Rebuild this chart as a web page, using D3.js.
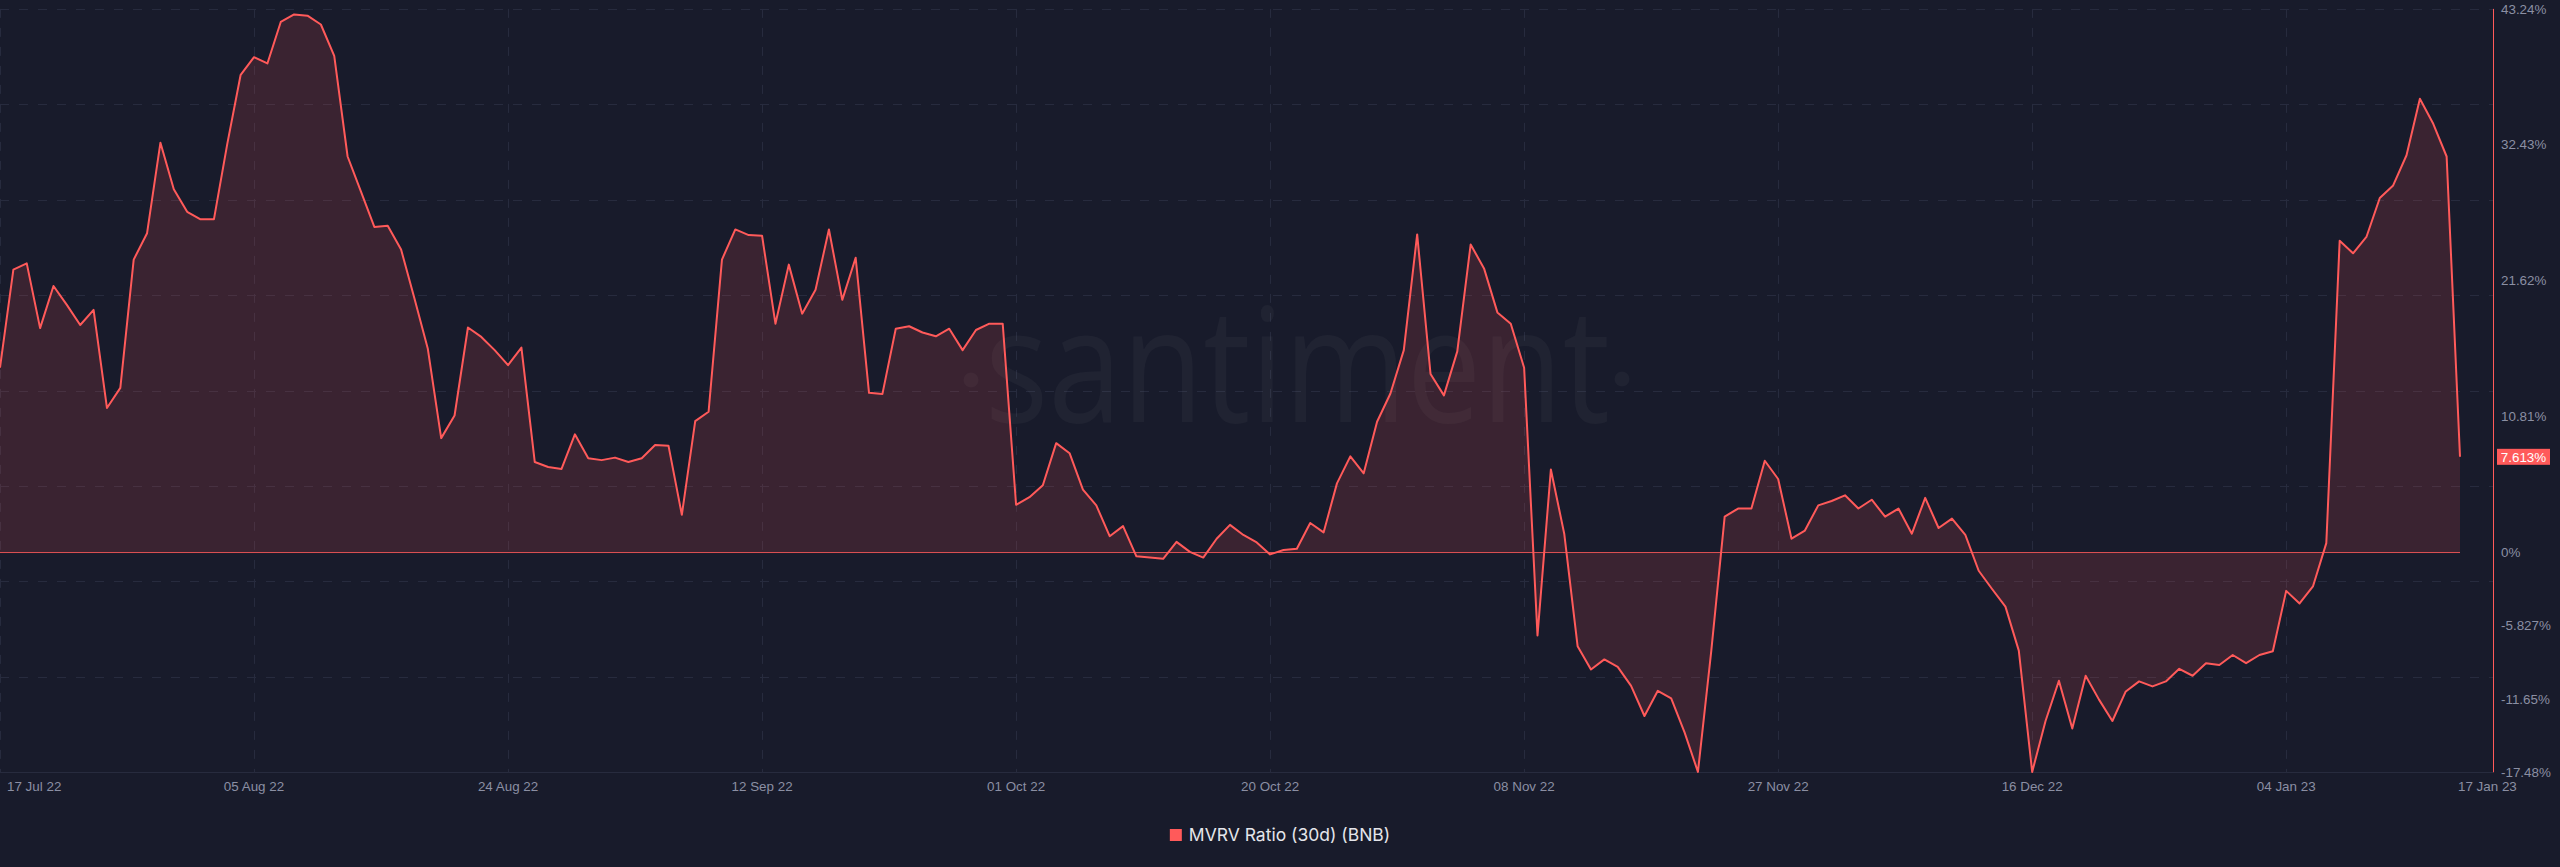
<!DOCTYPE html>
<html>
<head>
<meta charset="utf-8">
<script src="https://cdnjs.cloudflare.com/ajax/libs/d3/7.8.5/d3.min.js"></script>
<style>
  html, body { margin: 0; padding: 0; background: #181b2b; }
  svg { display: block; }
</style>
</head>
<body>
<svg id="chart" width="2560" height="867"></svg>
<script>
// ---------- DATA ----------
const seriesName = "MVRV Ratio (30d) (BNB)";
const startDate = "2022-07-17";
// daily MVRV (30d) values, %, 17 Jul 2022 .. 17 Jan 2023
const mvrvValues = [
  14.7, 22.5, 23.0, 17.85, 21.2, 19.7, 18.1, 19.3, 11.5, 13.1,
  23.3, 25.4, 32.6, 28.9, 27.1, 26.5, 26.5, 32.5, 38.0, 39.4,
  38.9, 42.2, 42.8, 42.7, 42.0, 39.5, 31.5, 28.7, 25.9, 26.0,
  24.1, 20.2, 16.2, 9.1, 10.9, 17.9, 17.15, 16.1, 14.9, 16.3,
  7.2, 6.8, 6.65, 9.4, 7.5, 7.35, 7.55, 7.2, 7.5, 8.55,
  8.5, 3.0, 10.45, 11.2, 23.3, 25.7, 25.25, 25.2, 18.2, 22.9,
  19.0, 20.9, 25.7, 20.1, 23.45, 12.7, 12.6, 17.8, 18.0, 17.5,
  17.2, 17.8, 16.1, 17.7, 18.2, 18.2, 3.8, 4.4, 5.35, 8.7,
  7.9, 5.0, 3.75, 1.3, 2.1, -0.3, -0.4, -0.5, 0.85, 0.05,
  -0.4, 1.1, 2.2, 1.4, 0.8, -0.15, 0.2, 0.3, 2.35, 1.6,
  5.5, 7.65, 6.3, 10.4, 12.65, 16.1, 25.3, 14.2, 12.5, 16.0,
  24.5, 22.6, 19.1, 18.2, 14.7, -6.6, 6.6, 1.5, -7.45, -9.3,
  -8.5, -9.1, -10.6, -13.0, -11.0, -11.6, -14.3, -17.45, -7.8, 2.85,
  3.5, 3.5, 7.3, 5.85, 1.1, 1.75, 3.75, 4.1, 4.55, 3.5,
  4.2, 2.85, 3.5, 1.5, 4.35, 1.95, 2.7, 1.4, -1.45, -2.9,
  -4.3, -7.8, -17.45, -13.4, -10.2, -14.0, -9.8, -11.7, -13.4, -11.05,
  -10.25, -10.65, -10.25, -9.25, -9.8, -8.8, -8.95, -8.15, -8.8, -8.15,
  -7.85, -3.05, -4.05, -2.7, 0.75, 24.8, 23.8, 25.1, 28.2, 29.2,
  31.6, 36.1, 34.1, 31.5, 7.613
];
const xTickDates = ["2022-07-17","2022-08-05","2022-08-24","2022-09-12","2022-10-01",
  "2022-10-20","2022-11-08","2022-11-27","2022-12-16","2023-01-04","2023-01-17"];
const xTickLabels = ["17 Jul 22","05 Aug 22","24 Aug 22","12 Sep 22","01 Oct 22",
  "20 Oct 22","08 Nov 22","27 Nov 22","16 Dec 22","04 Jan 23","17 Jan 23"];
const yTickValues = [43.24, 32.43, 21.62, 10.81, 0, -5.827, -11.65, -17.48];
const yTickLabels = ["43.24%","32.43%","21.62%","10.81%","0%","-5.827%","-11.65%","-17.48%"];

// ---------- LAYOUT ----------
const W = 2560, H = 867;
const C = {
  bg: "#181b2b", red: "#ff5a5a", grid: "#272b3e", text: "#8b8fa3", legend: "#e4e5ea"
};
const parse = d3.timeParse("%Y-%m-%d");
const t0 = parse(startDate);
const data = mvrvValues.map((v, i) => ({ date: d3.timeDay.offset(t0, i), value: v }));
const lastDate = data[data.length - 1].date;

const x = d3.scaleTime().domain([t0, lastDate]).range([0, 2460]);
const axisX = 2493; // right axis line
const y = d3.scaleLinear().domain([d3.min(yTickValues), d3.max(yTickValues)]).range([772.3, 8.9]);

const svg = d3.select("#chart");
svg.append("rect").attr("width", W).attr("height", H).attr("fill", C.bg);

// grid
const g = svg.append("g");
const [ymin, ymax] = y.domain();
const hGrid = d3.range(9).map(i => ymin + i * (ymax - ymin) / 8);
g.selectAll("line.h").data(hGrid).join("line")
  .attr("x1", 0).attr("x2", axisX)
  .attr("y1", d => Math.round(y(d)) + 0.5).attr("y2", d => Math.round(y(d)) + 0.5)
  .attr("stroke", C.grid).attr("stroke-width", 1)
  .attr("stroke-dasharray", (d, i) => i === 0 ? null : "9,10");
g.selectAll("line.v").data(xTickDates.slice(0, -1)).join("line")
  .attr("x1", d => Math.round(x(parse(d))) + 0.5).attr("x2", d => Math.round(x(parse(d))) + 0.5)
  .attr("y1", y(ymax)).attr("y2", y(ymin))
  .attr("stroke", C.grid).attr("stroke-width", 1).attr("stroke-dasharray", "9,10");

// watermark
const wm = svg.append("g").attr("fill", "#ffffff").attr("fill-opacity", 0.035);
wm.append("text").text("santiment")
  .attr("x", 985).attr("y", 422)
  .attr("font-family", "Open Sans").attr("font-size", 160)
  .attr("textLength", 625).attr("lengthAdjust", "spacingAndGlyphs");
wm.append("circle").attr("cx", 971).attr("cy", 380).attr("r", 7.5);
wm.append("circle").attr("cx", 1622).attr("cy", 379).attr("r", 7.5);

// area + line
const area = d3.area().x(d => x(d.date)).y0(y(0)).y1(d => y(d.value));
svg.append("path").datum(data).attr("d", area)
  .attr("fill", C.red).attr("fill-opacity", 0.15);
svg.append("line")
  .attr("x1", 0).attr("x2", x(lastDate))
  .attr("y1", y(0)).attr("y2", y(0))
  .attr("stroke", C.red).attr("stroke-width", 1).attr("stroke-opacity", 0.85);
const line = d3.line().x(d => x(d.date)).y(d => y(d.value));
svg.append("path").datum(data).attr("d", line)
  .attr("fill", "none").attr("stroke", C.red).attr("stroke-width", 2)
  .attr("stroke-linejoin", "round");

// right axis
svg.append("line").attr("x1", axisX + 0.5).attr("x2", axisX + 0.5)
  .attr("y1", y(ymax)).attr("y2", y(ymin))
  .attr("stroke", C.red).attr("stroke-width", 1);
svg.append("g").selectAll("text").data(yTickValues).join("text")
  .attr("x", axisX + 8).attr("y", d => y(d))
  .attr("dy", "0.35em")
  .attr("font-family", "Liberation Sans, Arial, sans-serif").attr("font-size", 13.4)
  .attr("fill", C.text)
  .text((d, i) => yTickLabels[i]);

// x labels
const n = xTickDates.length;
svg.append("g").selectAll("text").data(xTickDates).join("text")
  .attr("x", (d, i) => i === 0 ? x(parse(d)) + 7 : (i === n - 1 ? x(parse(d)) - 2 : x(parse(d))))
  .attr("y", 791)
  .attr("text-anchor", (d, i) => (i === 0 || i === n - 1) ? "start" : "middle")
  .attr("font-family", "Liberation Sans, Arial, sans-serif").attr("font-size", 13.4)
  .attr("fill", C.text)
  .text((d, i) => xTickLabels[i]);

// last value badge
const lastV = data[data.length - 1].value;
const badge = svg.append("g").attr("transform", `translate(${axisX + 4},${y(lastV)})`);
badge.append("rect").attr("x", 0).attr("y", -8).attr("width", 53).attr("height", 16)
  .attr("fill", C.red);
badge.append("text").attr("x", 26.5).attr("y", 0).attr("dy", "0.36em")
  .attr("text-anchor", "middle")
  .attr("font-family", "Liberation Sans, Arial, sans-serif").attr("font-size", 13.4)
  .attr("fill", "#ffffff").text(lastV + "%");

// legend
const lg = svg.append("g");
lg.append("rect").attr("width", 12).attr("height", 12).attr("y", -12).attr("fill", C.red);
const lt = lg.append("text").attr("x", 19).attr("y", 0)
  .attr("font-family", "Inter, Lato, sans-serif").attr("font-size", 17.5)
  .attr("fill", C.legend).text(seriesName);
const lw = 19 + lt.node().getComputedTextLength();
lg.attr("transform", `translate(${W / 2 - lw / 2},841)`);
</script>
</body>
</html>
